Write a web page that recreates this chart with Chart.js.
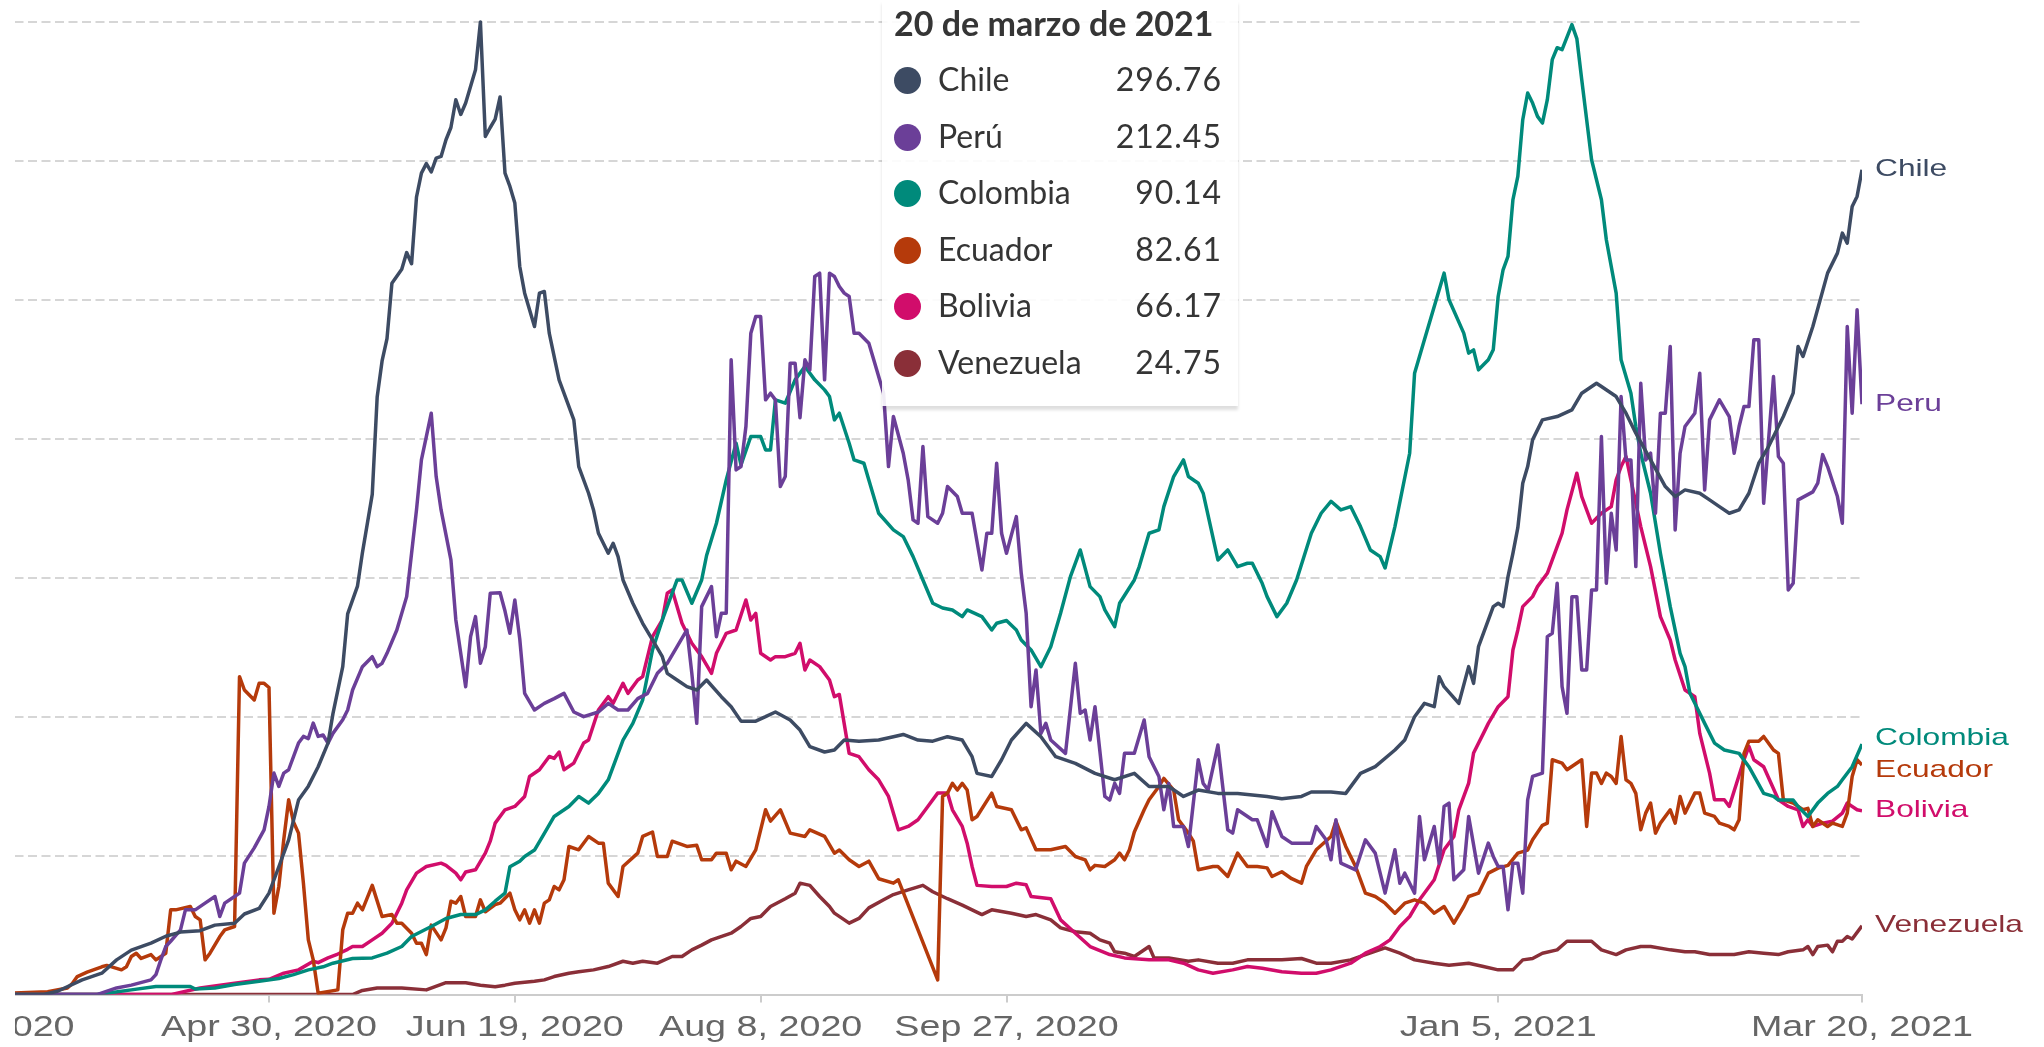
<!DOCTYPE html>
<html>
<head>
<meta charset="utf-8">
<script src="https://cdn.jsdelivr.net/npm/chart.js@4.4.1/dist/chart.umd.min.js"></script>
<style>
  html, body { margin: 0; padding: 0; background: #fff; overflow: hidden; }
  #wrap { position: absolute; left: 15px; top: 0; width: 2029px; height: 1047px; overflow: hidden; }
  #chart { position: absolute; left: -41px; top: 0; }
  #tip {
    position: absolute; left: 882px; top: 0; width: 356px; height: 406px;
    background: rgba(255, 255, 255, 0.9);
    box-shadow: 0 4px 3px rgba(0, 0, 0, 0.13);
    font-family: Lato, "Open Sans", sans-serif; color: #353535;
  }
  #tip .title { position: absolute; left: 12px; top: 3px; font-size: 34px; font-weight: 700; line-height: 40px; white-space: nowrap; }
  #tip .row { position: absolute; left: 0; width: 356px; height: 56px; font-size: 32px; line-height: 56px; }
  #tip .dot { position: absolute; left: 12px; top: 16px; width: 27px; height: 27px; border-radius: 50%; }
  #tip .name { position: absolute; left: 56px; top: 0; }
  #tip .val { position: absolute; right: 16px; top: 0; letter-spacing: 1px; }
</style>
</head>
<body>
<div id="wrap"><canvas id="chart" width="2070" height="1047"></canvas></div>
<div id="tip"></div>
<script>
// day 0 = Mar 11, 2020
const baseDate = Date.UTC(2020, 2, 11);
const tickDays = [-10, 50, 100, 150, 200, 300, 374];
const gridValues = [0, 50, 100, 150, 200, 250, 300, 350];
const tooltipTitle = '20 de marzo de 2021';

const seriesNames = ['Chile', 'Peru', 'Colombia', 'Ecuador', 'Bolivia', 'Venezuela'];
const tooltipNames = ['Chile', 'Perú', 'Colombia', 'Ecuador', 'Bolivia', 'Venezuela'];
const seriesColors = ['#3d4b63', '#6b3f98', '#008a7b', '#b53a0b', '#d10d6b', '#8a2f38'];

// [day, value]
const chile = [[-10,0],[4,0],[7,1.2],[12,5.3],[16,7.7],[19,12.5],[22,16],[26,18.5],[29,21],[32,22.5],[36,23],[39,25],[43,25.7],[45,29],[48,31],[50,36.5],[52,46],[54,55.7],[56,70],[58,75],[60,82],[62,90.5],[63,101],[65,118],[66,137],[68,147],[69,159],[71,180],[72,215],[73,228],[74,236],[75,256],[77,261],[78,267],[79,263],[80,287],[81,295.6],[82,299],[83,296],[84,301],[85,301.6],[86,307.6],[87,312],[88,322],[89,316.7],[90,320.8],[92,332.8],[93,350],[94,308.8],[95,312],[96,315],[97,323],[98,295.6],[99,290.8],[100,284.8],[101,262],[102,252.4],[104,240.4],[105,252.4],[106,253],[107,238],[109,221.2],[112,206.8],[113,190],[115,180.4],[116,174.4],[117,166],[119,158.8],[120,162.4],[121,157.6],[122,149.2],[124,140.8],[126,133.6],[128,127.6],[130,121.6],[131,115.6],[133,113.2],[135,110.8],[137,109.6],[139,113.2],[142,107.2],[144,103.6],[146,98.4],[149,98.4],[151,100],[153,101.7],[156,98.8],[158,95.2],[160,89.2],[163,87.3],[165,88],[167,91.6],[170,91.2],[174,91.6],[177,92.8],[179,93.6],[182,91.6],[185,91.2],[188,92.8],[191,91.6],[193,85.6],[194,79.6],[197,78.5],[199,84.5],[201,91.6],[204,97.6],[207,92.8],[210,85.6],[214,83.2],[218,79.6],[222,77.3],[226,79.6],[229,74.9],[233,74.9],[236,71.3],[239,73.6],[243,72.4],[247,72.4],[253,71.3],[256,70.5],[260,71.3],[262,72.9],[266,72.9],[269,72.4],[272,79.6],[275,82],[279,88],[281,91.6],[283,100],[285,104.8],[287,103.6],[288,114.4],[289,110.8],[292,104.8],[294,118],[295,112],[296,125.2],[299,139.6],[300,140.8],[301,139.6],[302,150.4],[303,158.8],[304,168],[305,184],[306,190],[307,199.6],[309,206.8],[312,208],[315,210.4],[317,216.4],[320,220],[321,218.8],[324,215.2],[326,209.2],[328,202],[331,192.4],[334,182.8],[336,179.2],[338,181.6],[341,180.4],[343,178],[345,175.6],[347,173.2],[349,174.4],[351,180.4],[353,191.2],[355,197.2],[358,208],[360,216.4],[361,233.2],[362,229.6],[364,240.4],[367,259.6],[369,266.8],[370,274],[371,270.4],[372,283.6],[373,287.2],[374,296.76]];

const peru = [[-10,0],[15,0],[19,2.4],[22,3.4],[26,5.3],[27,7.2],[28,12.5],[29,17.3],[30,19.2],[32,23.3],[33,30.5],[35,30.5],[37,32.9],[39,35.3],[40,28.1],[41,32.9],[43,35.3],[44,36.5],[45,47.3],[47,52.8],[49,59.3],[50,67.7],[51,79.7],[52,74.9],[53,79.7],[54,80.9],[56,90.5],[57,92.9],[58,92.1],[59,97.7],[60,92.9],[61,93.4],[62,90.5],[63,94],[65,98.9],[66,102.4],[67,109.6],[69,118],[71,121.6],[72,118],[73,119.2],[74,122.8],[76,131.2],[78,143.2],[79,158.8],[80,174.4],[81,192.4],[82,200.8],[83,209.2],[84,186.4],[85,174.4],[87,156.4],[88,134.8],[90,110.8],[91,128.8],[92,136],[93,119.2],[94,125.2],[95,144.4],[97,144.6],[98,138],[99,130],[100,142],[101,128],[102,108.4],[104,102.4],[106,104.8],[108,106.5],[110,108.4],[112,101.7],[114,100],[117,101.7],[119,104.8],[121,102.4],[123,102.4],[125,106.5],[127,108.4],[129,115.6],[131,119.2],[133,125.2],[135,131.2],[136,115.6],[137,97.6],[138,139.6],[140,146.8],[141,128.8],[142,137.2],[143,137.2],[144,228.4],[145,188.8],[146,190],[147,204.4],[148,238],[149,244],[150,244],[151,214],[152,216.4],[153,214],[154,182.8],[155,186.4],[156,227.2],[157,227.2],[158,207.6],[159,228.4],[160,224.8],[161,258.4],[162,259.6],[163,221.2],[164,259.6],[165,258.4],[166,254.8],[167,252.4],[168,251.2],[169,238],[170,238],[172,234.4],[173,228.4],[175,216.4],[176,190],[177,208],[179,194.8],[180,185.2],[181,170.8],[182,169.6],[183,197.2],[184,172],[186,169.6],[187,173.2],[188,182.8],[190,179.2],[191,173.2],[193,173.2],[195,152.8],[196,166],[197,166],[198,191.2],[199,166],[200,158.8],[202,172],[203,151.6],[204,137.2],[205,103.6],[206,116.8],[207,94],[208,97.6],[209,91.6],[212,86.8],[214,119.2],[215,101.2],[216,102.4],[217,91.6],[218,103.6],[220,71.3],[221,70],[222,76],[223,72.4],[224,86.8],[226,86.8],[228,98.8],[229,85.6],[231,78.5],[232,66.5],[233,76],[234,60.5],[236,60.5],[237,53.3],[239,84.5],[240,76],[241,73.6],[243,89.8],[245,59.3],[246,58.1],[247,66.5],[250,62.9],[251,62.9],[253,53.3],[254,65.8],[256,56.9],[258,54.5],[262,54.5],[263,60.5],[265,55.7],[266,48.5],[267,62.9],[268,47.3],[271,44.9],[273,55.7],[275,50.9],[277,36.5],[279,52.1],[280,40.1],[281,43.7],[283,36.5],[284,64.1],[285,48.5],[287,60.5],[288,47.3],[289,67.7],[290,68.9],[291,41.3],[293,44.9],[294,64.1],[296,43.7],[298,54.5],[299,49.7],[300,46.1],[301,46.1],[302,30.5],[303,47.3],[304,47.3],[305,36.5],[306,70.1],[307,78.5],[309,79.7],[310,128.8],[311,130],[312,148],[313,110.8],[314,101.2],[315,143.2],[316,143.2],[317,116.8],[318,116.8],[319,145.6],[320,145.6],[321,200.8],[322,148],[323,173.2],[324,160],[325,215.2],[326,192.4],[327,192.4],[328,154],[329,220],[330,192.4],[331,194.8],[332,173.2],[333,209.2],[334,209.2],[335,233.2],[336,167.2],[337,194.8],[338,204.4],[340,209.2],[341,223.6],[342,181.6],[343,206.8],[345,214],[347,208],[348,194.8],[349,204.4],[350,211.6],[351,211.6],[352,235.6],[353,235.6],[354,176.8],[356,222.4],[357,193.6],[358,191.2],[359,145.6],[360,148],[361,178],[364,180.9],[365,184],[366,194.3],[367,190],[369,179.2],[370,169.6],[371,240.4],[372,209.2],[373,246.4],[374,212.45]];

const colombia = [[-10,0],[15,0],[22,1.7],[27,2.9],[34,2.9],[35,2],[39,2.4],[43,3.6],[48,4.8],[52,5.8],[55,7.2],[58,8.9],[61,10],[63,11.3],[67,13],[71,13.2],[74,14.9],[77,17.3],[79,20.9],[83,24.5],[86,27.4],[89,28.8],[92,28.8],[94,30.5],[96,33.6],[98,36.5],[99,46],[101,48],[102,49.7],[104,52],[106,58],[108,64.1],[111,67.7],[113,71.3],[115,68.9],[117,72.4],[119,77.3],[122,91.6],[124,97.6],[126,106],[128,124],[130,134.8],[133,149.2],[134,149.2],[136,140.8],[138,149.2],[139,158],[141,169.6],[143,185.2],[145,198.4],[146,190.6],[148,200.8],[150,200.8],[151,196],[152,196],[153,214],[155,212.8],[157,221.2],[159,226],[161,221.2],[163,217.6],[164,215.2],[165,206.8],[166,209.2],[168,198.4],[169,192.4],[171,191.2],[172,185.2],[174,173.2],[177,167.2],[179,164.8],[181,157.6],[183,149.2],[185,140.8],[187,139.1],[189,138.4],[191,136],[192,138.4],[195,136],[197,131.2],[198,133.6],[200,134.6],[202,131.2],[203,127.6],[205,124],[207,118],[209,125.2],[211,137.2],[213,150.4],[215,160],[217,146.8],[219,143.2],[220,138.4],[222,132.4],[223,140.8],[226,149.2],[227,154],[229,166],[231,167.2],[232,175.6],[234,186.4],[236,192.4],[237,186.4],[239,184],[240,180.4],[243,156.4],[245,160],[247,154],[249,155.2],[250,155.2],[252,148],[253,143.2],[255,136],[257,140.8],[259,149.2],[262,166],[264,173.2],[266,177.5],[268,174.4],[270,175.6],[272,168.4],[274,160],[276,157.6],[277,153.5],[279,168.4],[282,194.8],[283,223.6],[285,235.6],[289,259.6],[290,250],[293,238],[294,230.8],[295,232],[296,224.8],[298,228.4],[299,232],[300,251.2],[301,260.8],[302,265.6],[303,286],[304,294.4],[305,314.8],[306,324.4],[307,320.8],[308,316],[309,313.6],[310,322],[311,336.4],[312,340.7],[313,340],[315,349],[316,344],[317,329.2],[319,300.4],[321,286],[322,271.6],[324,252.4],[325,228.4],[327,216.4],[328,204.4],[329,194.8],[331,180.4],[333,158.8],[335,139.6],[337,122.8],[338,118],[339,108.4],[340,104.8],[342,97.6],[344,90.5],[346,88],[349,86.8],[351,82],[354,72.4],[356,71.3],[357,70],[360,70],[361,67.7],[363,64.1],[365,68.9],[367,72.4],[369,74.9],[370,77.3],[372,82],[374,90.14]];

const ecuador = [[-10,0],[5,1],[9,2.4],[10,4],[11,6.5],[13,8.1],[16,10],[17,10.5],[20,8.9],[21,10],[22,13.7],[23,14.9],[24,13],[26,14.4],[27,12.5],[29,14.9],[30,30.5],[31,30.5],[34,31.7],[35,28.1],[36,26.9],[37,12.5],[38,14.9],[40,20.9],[41,23.3],[43,24.5],[44,114.4],[45,109.6],[47,106],[48,112],[49,112],[50,110.5],[51,29.3],[52,38.9],[53,55.7],[54,70.1],[55,62],[56,58.1],[57,40.1],[58,19.7],[59,12.5],[60,0.5],[64,1.7],[65,23.3],[66,29.3],[67,29.3],[68,32.9],[69,30.5],[71,39.3],[73,28.1],[75,28.8],[76,25.7],[77,25.7],[79,22.1],[80,18.5],[81,18.5],[82,14.4],[83,25],[85,19.7],[86,24],[87,33.6],[88,32.9],[89,35.3],[90,28.1],[92,28.1],[93,34.1],[94,29.8],[96,32.4],[97,32.9],[99,36.5],[100,30.5],[101,26.9],[102,30.5],[103,25.7],[104,30.5],[105,25.7],[106,32.9],[107,34.1],[108,38.9],[109,37.7],[110,41.3],[111,53.3],[113,52.1],[115,56.9],[117,54.5],[118,54.5],[119,40.1],[121,35.3],[122,46.1],[125,50.9],[126,56.9],[128,58.5],[129,49.7],[131,49.7],[132,55.2],[135,53.3],[137,53.7],[138,48.5],[140,48.5],[141,50.9],[143,50.9],[144,44.9],[145,48],[147,46.1],[149,52.1],[151,66.5],[152,62.4],[154,66.5],[156,58.1],[159,56.9],[160,59.3],[163,56.9],[165,50.9],[166,52],[168,48.5],[170,46.1],[172,48],[174,41.7],[177,40.1],[178,41.3],[186,5.3],[187,71.3],[188,72.5],[189,76],[190,73.6],[191,76],[192,73.6],[193,62.9],[194,64.1],[197,72.5],[198,67.7],[201,66.5],[203,59.3],[204,60],[206,52.1],[209,52.1],[212,53.3],[214,49.7],[216,48.5],[217,44.9],[218,46.5],[220,46.1],[222,48.5],[223,50.9],[224,48.5],[225,52.1],[226,58.5],[228,66.5],[229,70.1],[231,74.9],[232,77.8],[234,73.6],[235,62.9],[237,58.1],[238,55.2],[239,44.9],[242,46.1],[243,46.1],[245,42.5],[247,50.9],[249,46.1],[251,46.1],[253,45.6],[254,42.5],[256,44.2],[258,41.7],[260,40.1],[261,46.1],[263,52.1],[266,56.9],[267,62.4],[269,53.3],[271,46.1],[273,36.5],[275,35.3],[277,32.9],[279,29.3],[281,32.9],[283,34.1],[285,32.9],[287,29.3],[289,31.7],[291,25.7],[293,31.7],[294,35.3],[296,36.5],[298,43.7],[300,45.5],[302,46.5],[304,50.9],[306,52],[307,55.7],[309,60.9],[310,61.7],[311,84.5],[313,83.3],[314,80.9],[317,84.5],[318,60.5],[319,79.7],[320,79.7],[321,76],[322,79.7],[323,78.5],[324,76],[325,92.9],[326,77.3],[327,76],[328,72.4],[329,59.3],[330,65.3],[331,68.9],[332,58.1],[333,61.7],[335,66.5],[336,61.7],[337,71.3],[338,65.3],[340,72.5],[341,72.5],[342,65.3],[344,64.1],[345,61.7],[347,60.5],[348,59.3],[349,62.9],[350,86.8],[351,91.2],[353,91.2],[354,92.9],[356,88],[357,86.8],[358,70.1],[360,68.9],[362,66.5],[363,67],[364,60.5],[365,62.9],[367,60.5],[368,61.7],[370,60.5],[371,65.3],[372,78.5],[373,84.5],[374,82.61]];

const bolivia = [[-10,0],[30,0],[36,2.4],[43,4.1],[48,5.3],[50,5.5],[53,7.7],[56,8.9],[59,12],[60,11.5],[62,13.2],[64,14.6],[66,16.3],[67,17.3],[69,17.3],[71,19.7],[73,22.1],[75,25.7],[77,32.9],[78,37.7],[80,43.7],[82,46.1],[85,47.3],[86,46.5],[88,43.7],[89,41.3],[90,44.1],[92,44.9],[94,50.9],[95,55.2],[96,61.7],[98,66.5],[100,67.7],[102,71.3],[103,78.5],[105,80.9],[107,85.7],[108,85],[109,87.3],[110,80.9],[112,83.3],[114,90.5],[115,91.6],[117,102.4],[119,107.2],[120,104.8],[122,112],[123,108.4],[125,113.2],[126,114.4],[128,128.8],[130,134.8],[131,144.4],[132,145.6],[134,133.6],[136,126.4],[138,121.6],[140,115.6],[141,122.8],[143,130],[145,131.2],[147,142],[148,134.8],[149,137.2],[150,122.8],[152,120.4],[153,121.6],[155,121.6],[157,122.8],[158,126.4],[159,116.8],[160,120.4],[162,118],[164,113.2],[165,107.2],[166,108],[168,86.8],[170,85.6],[172,80.9],[174,77.3],[176,71.3],[178,59.3],[180,60.5],[182,62.9],[184,67.7],[186,72.5],[188,72.5],[189,66.5],[191,60.5],[192,54.5],[193,46.1],[194,39.3],[197,38.9],[200,38.9],[202,40.1],[204,39.5],[205,35.3],[209,34.5],[211,26.9],[214,22.1],[217,17.3],[221,14.4],[224,13.2],[229,12.5],[233,12.5],[236,11.3],[239,8.9],[242,7.7],[246,8.9],[249,10.1],[252,9.5],[256,8.2],[260,7.7],[263,7.7],[266,8.9],[270,11.3],[273,14.9],[276,17.3],[278,19.7],[280,24.5],[282,28.1],[284,34.1],[287,41.3],[289,52.1],[291,56.9],[292,66.5],[294,76.1],[295,86.9],[297,94],[298,97.6],[300,103.6],[302,107.2],[303,124],[304,131.2],[305,139.6],[307,143.2],[308,146.8],[310,151.6],[312,161.2],[313,166],[314,174.4],[316,187.6],[317,179.2],[319,169.6],[321,173.2],[323,175.6],[324,185.2],[325,190],[326,193.6],[327,185.2],[329,168.4],[331,154],[333,136],[335,127.6],[336,120.4],[338,109.6],[340,107.2],[341,94],[343,79.7],[344,70.1],[346,70.1],[347,67.7],[350,84.5],[351,89.3],[352,84.5],[354,82],[357,70.1],[359,67.7],[361,66.5],[362,60.5],[363,62.9],[364,60.5],[366,61.7],[368,62.4],[370,65.3],[371,68.9],[373,66.5],[374,66.17]];

const venezuela = [[-10,0],[67,0],[69,1.5],[72,2.4],[77,2.4],[82,1.7],[86,4.3],[90,4.3],[93,3.4],[96,2.8],[98,3.4],[100,4.1],[104,4.8],[106,5.3],[108,6.5],[111,7.7],[113,8.2],[116,8.9],[119,10.1],[122,12],[124,11.3],[126,12],[129,11.3],[132,13.7],[134,13.7],[136,16.1],[138,17.8],[140,19.7],[144,22.1],[146,24.5],[148,27.4],[150,28.1],[152,31.7],[155,34.5],[157,36.5],[158,40.1],[160,39.3],[162,35.3],[164,31.7],[165,29.3],[168,25.7],[170,27.4],[172,31.2],[175,34.1],[177,36],[180,37.7],[183,39.3],[185,37],[188,34.5],[191,32.2],[193,30.5],[195,28.8],[197,30.5],[201,29.3],[204,28.1],[206,28.8],[209,26.9],[211,24],[214,22.6],[217,22.1],[219,19.7],[221,18.5],[222,15.4],[224,14.9],[226,13.7],[229,17.3],[230,13.2],[233,13.2],[237,12],[239,12.5],[243,11.3],[246,11.3],[249,12.5],[256,12.5],[260,13],[263,11.3],[266,11.3],[270,12.5],[273,14.4],[277,16.8],[280,14.9],[283,12.5],[287,11.3],[290,10.6],[294,11.3],[297,10.1],[300,8.9],[303,8.9],[305,12.5],[307,13],[309,14.9],[312,16.1],[314,19.2],[319,19.2],[321,16.1],[324,14.4],[326,16.1],[329,17.3],[331,17.3],[335,16.1],[338,15.4],[340,15.4],[343,14.4],[346,14.4],[348,14.4],[351,15.4],[354,14.9],[357,14.4],[359,15.4],[362,16.1],[363,17.3],[364,14.4],[365,17.3],[367,17.8],[368,15.4],[369,19.2],[370,19.2],[371,20.9],[372,20],[374,24.75]];

const seriesData = [chile, peru, colombia, ecuador, bolivia, venezuela];

const fmtDate = d => new Date(baseDate + d * 86400000).toLocaleDateString('en-US', {
  month: 'short', day: 'numeric', year: 'numeric', timeZone: 'UTC'
});

// tooltip box, values taken from last point of each series
const tip = document.getElementById('tip');
let html = '<div class="title">' + tooltipTitle + '</div>';
seriesData.forEach((s, i) => {
  const top = 51 + i * 56.5;
  html += '<div class="row" style="top:' + top + 'px">' +
    '<span class="dot" style="background:' + seriesColors[i] + '"></span>' +
    '<span class="name">' + tooltipNames[i] + '</span>' +
    '<span class="val">' + s[s.length - 1][1].toFixed(2) + '</span></div>';
});
tip.innerHTML = html;

// the source text is drawn wide, so stretch it sideways
const wideText = (ctx, text, x, y, sx) => {
  ctx.save();
  ctx.translate(x, y);
  ctx.scale(sx, 1);
  ctx.fillText(text, 0, 0);
  ctx.restore();
};

const xLabels = {
  id: 'xLabels',
  afterDraw(chart) {
    const { ctx, chartArea } = chart;
    const scale = chart.scales.x;
    ctx.save();
    ctx.font = '29px "Liberation Sans", Arial, sans-serif';
    ctx.fillStyle = '#666666';
    ctx.textAlign = 'center';
    ctx.textBaseline = 'alphabetic';
    scale.ticks.forEach((t, i) => {
      wideText(ctx, t.label, scale.getPixelForTick(i), chartArea.bottom + 41.5, 1.3);
    });
    ctx.restore();
  }
};

const endLabels = {
  id: 'endLabels',
  afterDatasetsDraw(chart) {
    const { ctx, chartArea } = chart;
    const items = chart.data.datasets.map((ds, i) => {
      const pts = chart.getDatasetMeta(i).data;
      return { text: seriesNames[i], color: ds.borderColor, y: pts[pts.length - 1].y };
    });
    items.sort((a, b) => a.y - b.y);
    const gap = 32;
    for (let n = 0; n < 10; n++) {
      for (let k = 1; k < items.length; k++) {
        const d = items[k].y - items[k - 1].y;
        if (d < gap) {
          items[k].y += (gap - d) / 2;
          items[k - 1].y -= (gap - d) / 2;
        }
      }
    }
    ctx.save();
    ctx.font = '24px "Liberation Sans", Arial, sans-serif';
    ctx.textBaseline = 'middle';
    ctx.textAlign = 'left';
    items.forEach(it => {
      ctx.fillStyle = it.color;
      wideText(ctx, it.text, chartArea.right + 13, it.y, 1.32);
    });
    ctx.restore();
  }
};

new Chart(document.getElementById('chart'), {
  type: 'line',
  data: {
    datasets: seriesData.map((s, i) => ({
      label: seriesNames[i],
      data: s.map(p => ({ x: p[0], y: p[1] })),
      borderColor: seriesColors[i],
      backgroundColor: seriesColors[i],
      borderWidth: 3.5,
      borderJoinStyle: 'round',
      pointRadius: 0,
      tension: 0
    }))
  },
  options: {
    responsive: false,
    animation: false,
    devicePixelRatio: 1,
    layout: { autoPadding: false, padding: { left: 0, right: 182, top: 8, bottom: -8 } },
    plugins: { legend: { display: false }, tooltip: { enabled: false } },
    scales: {
      x: {
        type: 'linear',
        min: -10,
        max: 374,
        afterBuildTicks: axis => { axis.ticks = tickDays.map(v => ({ value: v })); },
        // no extra room for the first and last labels, the first one is cut off like in the source
        afterFit: axis => { axis.paddingLeft = 0; axis.paddingRight = 0; },
        grid: { drawOnChartArea: false, drawTicks: true, tickLength: 8, color: '#cccccc', lineWidth: 2 },
        border: { display: true, color: '#cccccc', width: 2 },
        ticks: {
          autoSkip: false, maxRotation: 0, minRotation: 0, padding: 10,
          color: 'rgba(0,0,0,0)', // labels are painted wider by the xLabels plugin
          font: { family: '"DejaVu Sans", sans-serif', size: 27 },
          callback: v => fmtDate(v)
        }
      },
      y: {
        min: 0,
        max: 355,
        afterBuildTicks: axis => { axis.ticks = gridValues.map(v => ({ value: v })); },
        ticks: { display: false },
        grid: {
          drawTicks: false,
          lineWidth: 2,
          color: c => c.tick && c.tick.value === 0 ? 'rgba(0,0,0,0)' : '#d6d6d6'
        },
        border: { display: false, dash: [9, 4.5] }
      }
    }
  },
  plugins: [xLabels, endLabels]
});
</script>
</body>
</html>
